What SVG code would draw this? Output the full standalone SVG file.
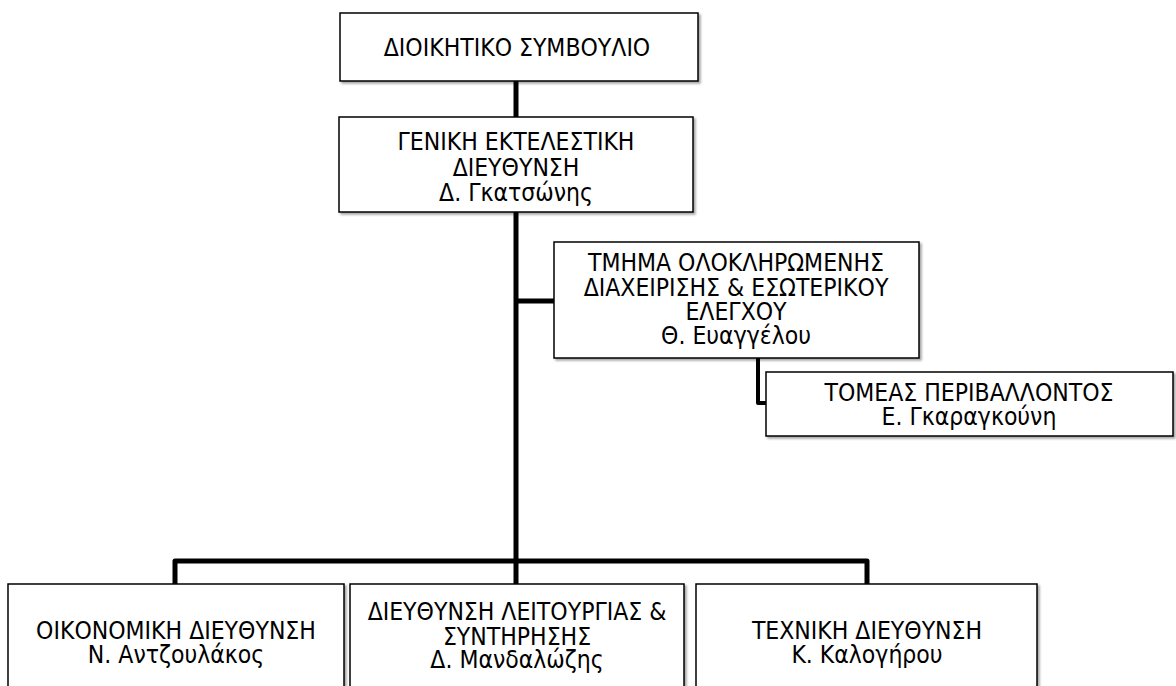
<svg xmlns="http://www.w3.org/2000/svg" width="1176" height="686" viewBox="0 0 1176 686">
<defs>
<filter id="sh" x="-5%" y="-5%" width="110%" height="120%">
<feDropShadow dx="2" dy="2" stdDeviation="1.2" flood-color="#000" flood-opacity="0.35"/>
</filter>
</defs>
<style>
.box{fill:#fff;stroke:#000;stroke-width:1.5;filter:url(#sh)}
.t{font-family:"DejaVu Sans Condensed","DejaVu Sans","Liberation Sans",sans-serif;font-stretch:condensed;font-size:24.5px;fill:#000;text-anchor:middle}
.c{fill:none;stroke:#000;stroke-width:5;stroke-linejoin:round}
.c2{fill:none;stroke:#000;stroke-width:4;stroke-linejoin:round}
</style>
<rect width="1176" height="686" fill="#fff"/>
<g id="connectors">
<line class="c" x1="516" y1="81" x2="516" y2="117"/>
<line class="c" x1="516" y1="212" x2="516" y2="584"/>
<line class="c" x1="516" y1="301" x2="554" y2="301"/>
<path class="c2" d="M758 358 V403 H766"/>
<path class="c" d="M175 584 V561 H867 V584"/>
</g>
<g id="n1">
<rect class="box" x="340" y="13" width="358" height="68"/>
<text class="t" x="517" y="56">ΔΙΟΙΚΗΤΙΚΟ ΣΥΜΒΟΥΛΙΟ</text>
</g>
<g id="n2">
<rect class="box" x="339" y="117" width="354" height="95"/>
<text class="t" x="516" y="150">ΓΕΝΙΚΗ ΕΚΤΕΛΕΣΤΙΚΗ</text>
<text class="t" x="516" y="176">ΔΙΕΥΘΥΝΣΗ</text>
<text class="t" x="516" y="201">Δ. Γκατσώνης</text>
</g>
<g id="n3">
<rect class="box" x="554" y="242" width="365" height="116"/>
<text class="t" x="736" y="271">ΤΜΗΜΑ ΟΛΟΚΛΗΡΩΜΕΝΗΣ</text>
<text class="t" x="736" y="296">ΔΙΑΧΕΙΡΙΣΗΣ &amp; ΕΣΩΤΕΡΙΚΟΥ</text>
<text class="t" x="736" y="320">ΕΛΕΓΧΟΥ</text>
<text class="t" x="736" y="344">Θ. Ευαγγέλου</text>
</g>
<g id="n4">
<rect class="box" x="766" y="372" width="407" height="64"/>
<text class="t" x="969" y="401">ΤΟΜΕΑΣ ΠΕΡΙΒΑΛΛΟΝΤΟΣ</text>
<text class="t" x="969" y="425">Ε. Γκαραγκούνη</text>
</g>
<g id="n5">
<rect class="box" x="8" y="584" width="336" height="130"/>
<text class="t" x="176" y="639">ΟΙΚΟΝΟΜΙΚΗ ΔΙΕΥΘΥΝΣΗ</text>
<text class="t" x="176" y="663">Ν. Αντζουλάκος</text>
</g>
<g id="n6">
<rect class="box" x="350" y="584" width="334" height="130"/>
<text class="t" x="517" y="620">ΔΙΕΥΘΥΝΣΗ ΛΕΙΤΟΥΡΓΙΑΣ &amp;</text>
<text class="t" x="517" y="645">ΣΥΝΤΗΡΗΣΗΣ</text>
<text class="t" x="517" y="668">Δ. Μανδαλώζης</text>
</g>
<g id="n7">
<rect class="box" x="696" y="584" width="341" height="130"/>
<text class="t" x="867" y="639">ΤΕΧΝΙΚΗ ΔΙΕΥΘΥΝΣΗ</text>
<text class="t" x="867" y="663">Κ. Καλογήρου</text>
</g>
</svg>
